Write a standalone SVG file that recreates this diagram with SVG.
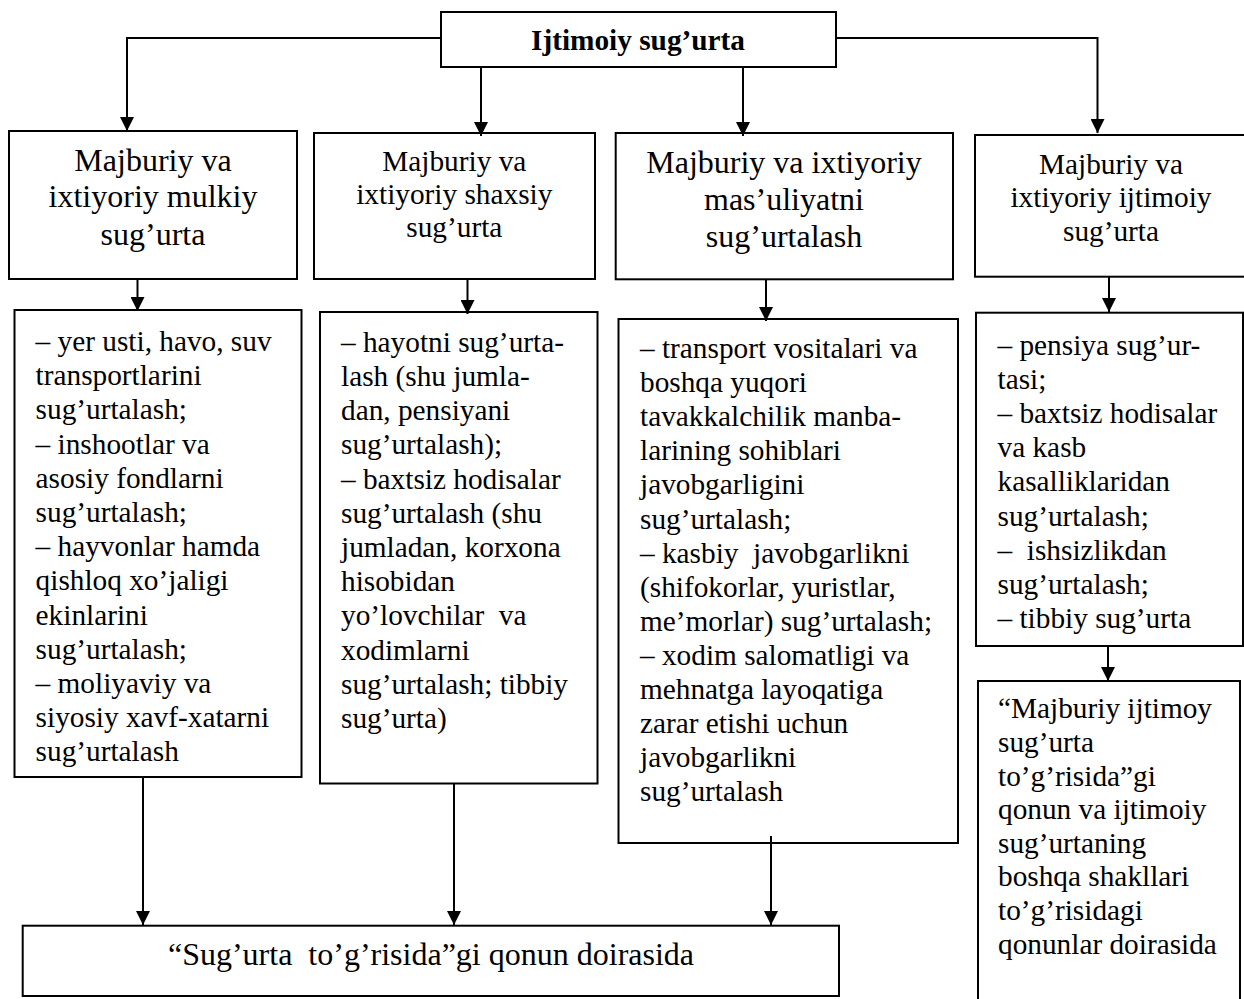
<svg xmlns="http://www.w3.org/2000/svg" width="1244" height="999" viewBox="0 0 1244 999">
<style>
.box{fill:#fff;stroke:#000;stroke-width:2}
.conn{fill:none;stroke:#000;stroke-width:2}
text{font-family:"Liberation Serif","Times New Roman",serif;fill:#000}
.t32{font-size:32px;text-anchor:middle}
.t29{font-size:29.3px;text-anchor:middle}
.li{font-size:29.3px}
.bold{font-weight:bold;font-size:29.3px;text-anchor:middle}
</style>
<defs>
<marker id="ah" viewBox="0 0 14 14" markerWidth="14" markerHeight="14" refX="14" refY="7" orient="auto" markerUnits="userSpaceOnUse">
<path d="M0,0 L14,7 L0,14 z" fill="#000"/>
</marker>
</defs>
<rect width="1244" height="999" fill="#fff"/>

<g id="root">
<rect class="box" x="441" y="12" width="395" height="55"/>
<text class="bold" x="638" y="50">Ijtimoiy sug’urta</text>
</g>

<g id="box1">
<rect class="box" x="9" y="131" width="288" height="148"/>
<text class="t32"><tspan x="153" y="170.7">Majburiy va</tspan><tspan x="153" y="207.3">ixtiyoriy mulkiy</tspan><tspan x="153" y="244.5">sug’urta</tspan></text>
</g>
<g id="box2">
<rect class="box" x="314" y="133" width="281" height="146"/>
<text class="t29"><tspan x="454.3" y="170.7">Majburiy va</tspan><tspan x="454.3" y="204">ixtiyoriy shaxsiy</tspan><tspan x="454.3" y="237.3">sug’urta</tspan></text>
</g>
<g id="box3">
<rect class="box" x="615.7" y="133" width="337.3" height="146.3"/>
<text class="t32"><tspan x="784" y="173.3">Majburiy va ixtiyoriy</tspan><tspan x="784" y="210">mas’uliyatni</tspan><tspan x="784" y="246.7">sug’urtalash</tspan></text>
</g>
<g id="box4">
<rect class="box" x="975" y="135" width="272" height="141.7"/>
<text class="t29"><tspan x="1111" y="174">Majburiy va</tspan><tspan x="1111" y="206.7">ixtiyoriy ijtimoiy</tspan><tspan x="1111" y="240.5">sug’urta</tspan></text>
</g>

<g id="list1">
<rect class="box" x="14.5" y="310" width="287" height="467"/>
<text class="li"><tspan x="35.6" y="351">– yer usti, havo, suv</tspan><tspan x="35.6" dy="34.2">transportlarini</tspan><tspan x="35.6" dy="34.2">sug’urtalash;</tspan><tspan x="35.6" dy="34.2">– inshootlar va</tspan><tspan x="35.6" dy="34.2">asosiy fondlarni</tspan><tspan x="35.6" dy="34.2">sug’urtalash;</tspan><tspan x="35.6" dy="34.2">– hayvonlar hamda</tspan><tspan x="35.6" dy="34.2">qishloq xo’jaligi</tspan><tspan x="35.6" dy="34.2">ekinlarini</tspan><tspan x="35.6" dy="34.2">sug’urtalash;</tspan><tspan x="35.6" dy="34.2">– moliyaviy va</tspan><tspan x="35.6" dy="34.2">siyosiy xavf-xatarni</tspan><tspan x="35.6" dy="34.2">sug’urtalash</tspan></text>
</g>
<g id="list2">
<rect class="box" x="320" y="312" width="277.5" height="471.5"/>
<text class="li" xml:space="preserve"><tspan x="341" y="351.7">– hayotni sug’urta-</tspan><tspan x="341" dy="34.2">lash (shu jumla-</tspan><tspan x="341" dy="34.2">dan, pensiyani</tspan><tspan x="341" dy="34.2">sug’urtalash);</tspan><tspan x="341" dy="34.2">– baxtsiz hodisalar</tspan><tspan x="341" dy="34.2">sug’urtalash (shu</tspan><tspan x="341" dy="34.2">jumladan, korxona</tspan><tspan x="341" dy="34.2">hisobidan</tspan><tspan x="341" dy="34.2">yo’lovchilar  va</tspan><tspan x="341" dy="34.2">xodimlarni</tspan><tspan x="341" dy="34.2">sug’urtalash; tibbiy</tspan><tspan x="341" dy="34.2">sug’urta)</tspan></text>
</g>
<g id="list3">
<rect class="box" x="618.5" y="319" width="339.5" height="524"/>
<text class="li" xml:space="preserve"><tspan x="640" y="358">– transport vositalari va</tspan><tspan x="640" dy="34.1">boshqa yuqori</tspan><tspan x="640" dy="34.1">tavakkalchilik manba-</tspan><tspan x="640" dy="34.1">larining sohiblari</tspan><tspan x="640" dy="34.1">javobgarligini</tspan><tspan x="640" dy="34.1">sug’urtalash;</tspan><tspan x="640" dy="34.1">– kasbiy  javobgarlikni</tspan><tspan x="640" dy="34.1">(shifokorlar, yuristlar,</tspan><tspan x="640" dy="34.1">me’morlar) sug’urtalash;</tspan><tspan x="640" dy="34.1">– xodim salomatligi va</tspan><tspan x="640" dy="34.1">mehnatga layoqatiga</tspan><tspan x="640" dy="34.1">zarar etishi uchun</tspan><tspan x="640" dy="34.1">javobgarlikni</tspan><tspan x="640" dy="34.1">sug’urtalash</tspan></text>
</g>
<g id="list4">
<rect class="box" x="976" y="312.7" width="267" height="333.3"/>
<text class="li" xml:space="preserve"><tspan x="997.5" y="355">– pensiya sug’ur-</tspan><tspan x="997.5" dy="34.1">tasi;</tspan><tspan x="997.5" dy="34.1">– baxtsiz hodisalar</tspan><tspan x="997.5" dy="34.1">va kasb</tspan><tspan x="997.5" dy="34.1">kasalliklaridan</tspan><tspan x="997.5" dy="34.1">sug’urtalash;</tspan><tspan x="997.5" dy="34.1">–  ishsizlikdan</tspan><tspan x="997.5" dy="34.1">sug’urtalash;</tspan><tspan x="997.5" dy="34.1">– tibbiy sug’urta</tspan></text>
</g>
<g id="law2">
<rect class="box" x="978" y="681" width="262" height="325"/>
<text class="li"><tspan x="998" y="718.3">“Majburiy ijtimoy</tspan><tspan x="998" dy="33.6">sug’urta</tspan><tspan x="998" dy="33.6">to’g’risida”gi</tspan><tspan x="998" dy="33.6">qonun va ijtimoiy</tspan><tspan x="998" dy="33.6">sug’urtaning</tspan><tspan x="998" dy="33.6">boshqa shakllari</tspan><tspan x="998" dy="33.6">to’g’risidagi</tspan><tspan x="998" dy="33.6">qonunlar doirasida</tspan></text>
</g>
<g id="law1">
<rect class="box" x="22.7" y="925.7" width="816.3" height="70.3"/>
<text class="t32" x="431" y="965" xml:space="preserve">“Sug’urta  to’g’risida”gi qonun doirasida</text>
</g>

<g id="connectors">
<path class="conn" d="M441,38 H127 V131" marker-end="url(#ah)"/>
<path class="conn" d="M481,67 V136" marker-end="url(#ah)"/>
<path class="conn" d="M743,67 V136" marker-end="url(#ah)"/>
<path class="conn" d="M836,38 H1097.5 V133" marker-end="url(#ah)"/>
<path class="conn" d="M137.5,279 V311" marker-end="url(#ah)"/>
<path class="conn" d="M467.5,279 V314" marker-end="url(#ah)"/>
<path class="conn" d="M766,279 V321" marker-end="url(#ah)"/>
<path class="conn" d="M1109,277 V312" marker-end="url(#ah)"/>
<path class="conn" d="M1108,646 V681" marker-end="url(#ah)"/>
<path class="conn" d="M143,777 V925" marker-end="url(#ah)"/>
<path class="conn" d="M454,783.5 V925" marker-end="url(#ah)"/>
<path class="conn" d="M771,836 V925" marker-end="url(#ah)"/>
</g>
</svg>
